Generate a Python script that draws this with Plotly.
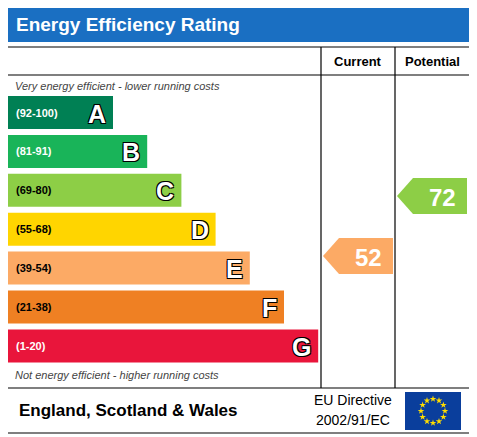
import numpy as np
import plotly.graph_objects as go

letters = ["A", "B", "C", "D", "E", "F", "G"]
ranges = ["(92-100)", "(81-91)", "(69-80)", "(55-68)", "(39-54)", "(21-38)", "(1-20)"]
colors = ["#008054", "#19b459", "#8dce46", "#ffd500", "#fcaa65", "#ef8023", "#e9153b"]
label_colors = ["white", "white", "black", "black", "black", "black", "white"]
current = 52
potential = 72
current_color = "#fcaa65"
potential_color = "#8dce46"

# pixel-like axis layout
band_y = [112.5 + 38.9 * i for i in range(7)]
band_len = [105 + 34.2 * i for i in range(7)]
left = 8

fig = go.Figure()
fig.add_trace(go.Bar(orientation="h", y=band_y, x=band_len, base=left, width=33,
                     marker=dict(color=colors, line=dict(width=0)), hoverinfo="skip"))

outline = "-1px -1px 0 #000, 1px -1px 0 #000, -1px 1px 0 #000, 1px 1px 0 #000"
for i in range(7):
    fig.add_annotation(x=left + 6, y=band_y[i], text="<b>%s</b>" % ranges[i], showarrow=False,
                       xanchor="left", font=dict(size=11, color=label_colors[i], family="Arial"))
    fig.add_annotation(x=left + band_len[i] - 5, y=band_y[i] + 1, text="<b>%s</b>" % letters[i],
                       showarrow=False, xanchor="right",
                       font=dict(size=25, color="white", family="Arial", shadow=outline))


def arrow(x0, x1, yc, col, val):
    h = 18
    xs = [x0, x0 + 16, x1, x1, x0 + 16, x0]
    ys = [yc, yc - h, yc - h, yc + h, yc + h, yc]
    fig.add_trace(go.Scatter(x=xs, y=ys, fill="toself", fillcolor=col, mode="lines",
                             line=dict(width=0, color=col), hoverinfo="skip"))
    fig.add_annotation(x=(x0 + 16 + x1) / 2 + 2, y=yc + 1, text="<b>%d</b>" % val, showarrow=False,
                       font=dict(size=24, color="white", family="Arial"))


arrow(323, 393, 256, current_color, current)
arrow(397, 467, 196, potential_color, potential)

# EU flag stars
ang = np.linspace(0, 2 * np.pi, 13)[:-1]
fig.add_trace(go.Scatter(x=433 + 12 * np.cos(ang), y=411 + 12 * np.sin(ang), mode="markers",
                         marker=dict(symbol="star", size=5, color="#ffdd00"), hoverinfo="skip"))

line = dict(color="black", width=1.2)
shapes = [
    dict(type="rect", x0=5, x1=470, y0=5, y1=42, fillcolor="#1a6fc2", line=dict(width=0), layer="below"),
    dict(type="rect", x0=5, x1=470, y0=47, y1=433, line=line),
    dict(type="line", x0=5, x1=470, y0=75, y1=75, line=line),
    dict(type="line", x0=321, x1=321, y0=47, y1=388, line=line),
    dict(type="line", x0=395, x1=395, y0=47, y1=388, line=line),
    dict(type="line", x0=5, x1=470, y0=388, y1=388, line=line),
    dict(type="rect", x0=405, x1=461, y0=392, y1=430, fillcolor="#0a3e9c", line=dict(width=0),
         layer="below"),
]
fig.update_layout(shapes=shapes)

texts = [
    (14, 24, "<b>Energy Efficiency Rating</b>", 19, "white", "left", "normal"),
    (358, 61, "<b>Current</b>", 13, "black", "center", "normal"),
    (432, 61, "<b>Potential</b>", 13, "black", "center", "normal"),
    (13, 86, "Very energy efficient - lower running costs", 11, "#444", "left", "italic"),
    (13, 375, "Not energy efficient - higher running costs", 11, "#444", "left", "italic"),
    (17, 410, "<b>England, Scotland & Wales</b>", 17, "black", "left", "normal"),
    (353, 400, "EU Directive", 14, "black", "center", "normal"),
    (353, 420, "2002/91/EC", 14, "black", "center", "normal"),
]
for x, y, t, s, c, a, st in texts:
    fig.add_annotation(x=x, y=y, text=t, showarrow=False, xanchor=a,
                       font=dict(size=s, color=c, family="Arial", style=st))

# page has an 8px body margin, so shift the view to compensate
fig.update_layout(width=477, height=437, margin=dict(l=0, r=0, t=0, b=0), showlegend=False,
                  plot_bgcolor="white", paper_bgcolor="white",
                  xaxis=dict(range=[8, 485], visible=False, fixedrange=True),
                  yaxis=dict(range=[445, 8], visible=False, fixedrange=True))
fig.write_html("out.html")
